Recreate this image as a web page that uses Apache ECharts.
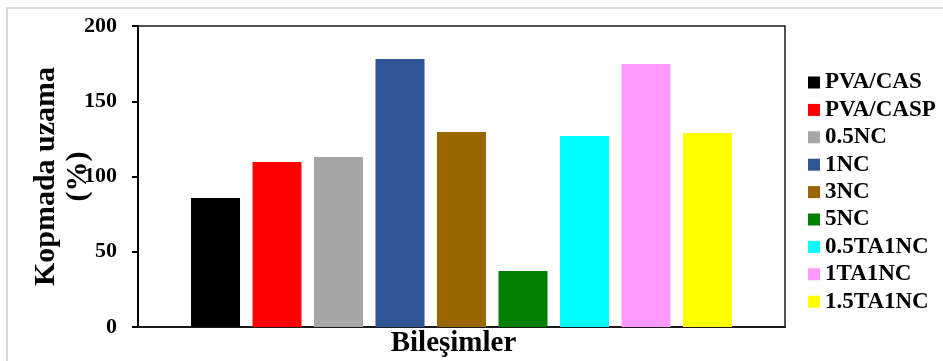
<!DOCTYPE html>
<html>
<head>
<meta charset="utf-8">
<script src="https://cdn.jsdelivr.net/npm/echarts@6/dist/echarts.min.js"></script>
<style>
html,body{margin:0;padding:0;background:#fff;overflow:hidden;}
#frame{position:absolute;left:6px;top:7px;width:950px;height:370px;border-top:2px solid #d9d9d9;border-left:2px solid #d9d9d9;}
#chart{position:absolute;left:0;top:0;width:943px;height:361px;}
</style>
</head>
<body>
<div id="frame"></div>
<div id="chart"></div>
<script>
const seriesNames = ['PVA/CAS','PVA/CASP','0.5NC','1NC','3NC','5NC','0.5TA1NC','1TA1NC','1.5TA1NC'];
const seriesValues = [85.7, 109.6, 113, 178, 129.6, 37.2, 126.9, 174.8, 128.9];
const seriesColors = ['#000000','#ff0000','#a6a6a6','#2f5597','#996600','#008000','#00ffff','#ff99ff','#ffff00'];
const categories = [''];
const yTicks = {min: 0, max: 200, interval: 50};

const font = '"Liberation Serif", "Times New Roman", serif';
const chart = echarts.init(document.getElementById('chart'));
chart.setOption({
  animation: false,
  backgroundColor: 'transparent',
  grid: {left: 138, right: 158, top: 26, bottom: 34, show: true, borderColor: '#1a1a1a', borderWidth: 1.5, backgroundColor: 'transparent', outerBoundsMode: 'none', containLabel: false},
  legend: {
    orient: 'vertical', left: 808, top: 71, padding: 0,
    itemWidth: 12, itemHeight: 12, itemGap: 4.4,
    icon: 'rect',
    data: seriesNames,
    textStyle: {fontFamily: font, fontWeight: 'bold', fontSize: 23, color: '#000', lineHeight: 20}
  },
  xAxis: {
    type: 'category', data: categories,
    name: 'Bileşimler', nameLocation: 'middle', nameGap: 2,
    nameTextStyle: {fontFamily: font, fontWeight: 'bold', fontSize: 29, color: '#000', padding: [0, 16, 0, 0]},
    axisLine: {lineStyle: {color: '#1a1a1a', width: 2}},
    axisTick: {show: false}, axisLabel: {show: false}
  },
  yAxis: {
    type: 'value', min: yTicks.min, max: yTicks.max, interval: yTicks.interval,
    name: 'Kopmada uzama\n(%)', nameLocation: 'middle', nameGap: 44, nameRotate: 90,
    nameMoveOverlap: false,
    nameTextStyle: {fontFamily: font, fontWeight: 'bold', fontSize: 30, color: '#000', lineHeight: 32},
    axisLine: {show: true, lineStyle: {color: '#000', width: 2}},
    axisTick: {show: true, length: 6, lineStyle: {color: '#000', width: 2}},
    axisLabel: {fontFamily: font, fontWeight: 'bold', fontSize: 22, color: '#000', margin: 21},
    splitLine: {show: false}
  },
  series: seriesNames.map((n, i) => ({
    name: n, type: 'bar', data: [seriesValues[i]],
    barWidth: 49, barGap: '25.5%',
    itemStyle: {color: seriesColors[i]}
  }))
});
</script>
</body>
</html>
